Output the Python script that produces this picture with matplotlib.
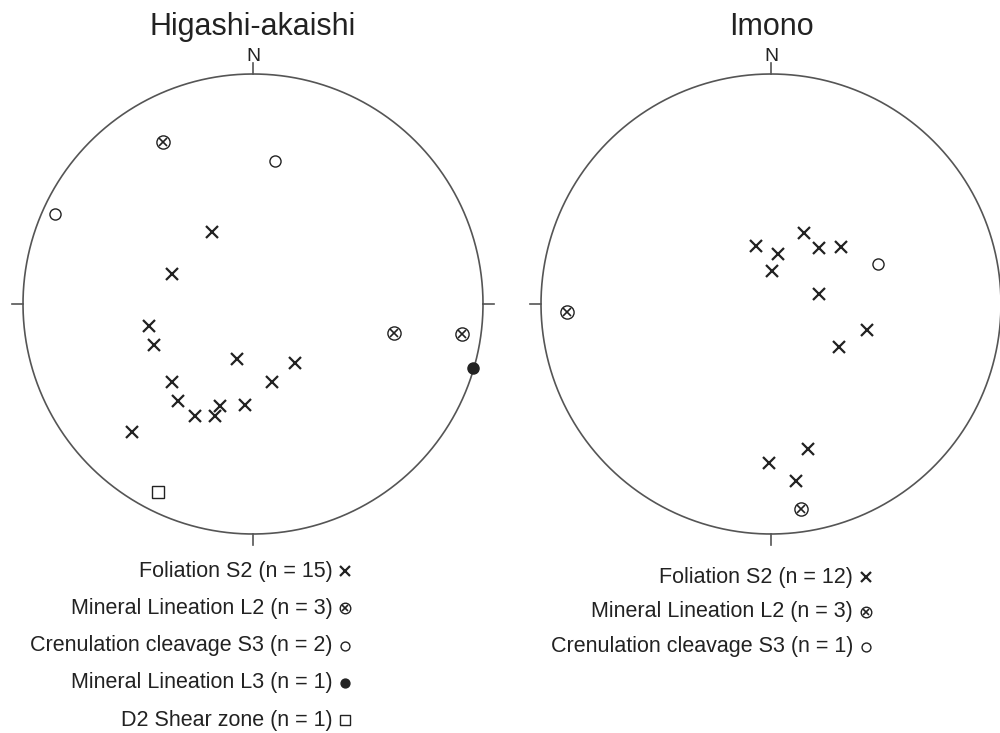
import numpy as np
import matplotlib
matplotlib.use("Agg")
import matplotlib.pyplot as plt

plt.rcParams['font.family'] = ['Liberation Sans', 'DejaVu Sans']

# --------------------------------------------
# PROJECTED POLES / LINEATIONS (unit net coords, x = east, y = north)
# --------------------------------------------
# Higashi-akaishi
ha_s2_x = [-0.178, -0.352, -0.452, -0.430, -0.070, 0.183, -0.352, 0.083,
           -0.326, -0.143, -0.035, -0.252, -0.165, -0.526]
ha_s2_y = [0.313, 0.130, -0.096, -0.178, -0.239, -0.257, -0.339, -0.339,
           -0.422, -0.443, -0.439, -0.487, -0.487, -0.557]
ha_l2_x = [-0.391, 0.613, 0.909]
ha_l2_y = [0.704, -0.126, -0.130]
ha_s3_x = [0.096, -0.861]
ha_s3_y = [0.622, 0.391]
ha_l3_x = [0.957]
ha_l3_y = [-0.278]
ha_sz_x = [-0.413]
ha_sz_y = [-0.817]

# Imono
im_s2_x = [-0.065, 0.030, 0.143, 0.209, 0.304, 0.004, 0.209, 0.417,
           0.296, 0.161, -0.009, 0.109]
im_s2_y = [0.252, 0.217, 0.309, 0.243, 0.248, 0.143, 0.043, -0.113,
           -0.187, -0.630, -0.691, -0.770]
im_l2_x = [-0.887, 0.130]
im_l2_y = [-0.035, -0.891]
im_s3_x = [0.465]
im_s3_y = [0.174]

ha_labels = ["Foliation S2 (n = 15)", "Mineral Lineation L2 (n = 3)",
             "Crenulation cleavage S3 (n = 2)", "Mineral Lineation L3 (n = 1)",
             "D2 Shear zone (n = 1)"]
im_labels = ["Foliation S2 (n = 12)", "Mineral Lineation L2 (n = 3)",
             "Crenulation cleavage S3 (n = 1)"]

INK = "#222222"
RIM = "#555555"

# marker styles for each structure type
STYLES = {
    "s2": dict(marker="x", ms=9, mew=1.6, color=INK, ls="none"),
    "s3": dict(marker="o", ms=8, mew=1.0, mfc="white", mec=INK, ls="none"),
    "l3": dict(marker="o", ms=8, mew=1.0, mfc=INK, mec=INK, ls="none"),
    "sz": dict(marker="s", ms=8.5, mew=1.0, mfc="white", mec=INK, ls="none"),
}


def plot_l2(ax, x, y, scale=1.0):
    # circled cross = open circle with an x on top
    ax.plot(x, y, marker="o", ms=9.5 * scale, mew=1.0, mfc="white", mec=INK,
            ls="none", clip_on=False, zorder=3)
    ax.plot(x, y, marker="x", ms=5.5 * scale, mew=1.2, color=INK, ls="none",
            clip_on=False, zorder=4)


def draw_net(ax, title, right_tick=True):
    t = np.linspace(0, 2 * np.pi, 400)
    ax.plot(np.cos(t), np.sin(t), color=RIM, lw=1.2)
    tk = 0.048
    ax.plot([0, 0], [1, 1 + tk], color=RIM, lw=1.2)
    ax.plot([0, 0], [-1, -1 - tk], color=RIM, lw=1.2)
    ax.plot([-1, -1 - tk], [0, 0], color=RIM, lw=1.2)
    if right_tick:
        ax.plot([1, 1 + tk], [0, 0], color=RIM, lw=1.2)
    ax.text(0, 1.055, "N", ha="center", va="baseline", fontsize=14, color=INK)
    ax.text(0, 1.17, title, ha="center", va="baseline", fontsize=22, color=INK)
    ax.set_xlim(-1.1, 1.1)
    ax.set_ylim(-1.1, 1.1)
    ax.axis("off")


def draw_key(ax, labels, kinds, y0, dy, tx, mx):
    for i, (lab, kind) in enumerate(zip(labels, kinds)):
        y = y0 - i * dy
        ax.text(tx, y, lab, ha="right", va="center", fontsize=15.5, color=INK)
        if kind == "l2":
            plot_l2(ax, [mx], [y], scale=0.8)
        else:
            st = dict(STYLES[kind])
            st["ms"] = st["ms"] * 0.8
            ax.plot([mx], [y], clip_on=False, **st)


fig = plt.figure(figsize=(10, 7.33), dpi=100)
W, H = 1000, 733
R = 230.0
side = 2.2 * R

# left net centre (253, 304) px, right net centre (771, 304) px
ax1 = fig.add_axes([(253 - side / 2) / W, (H - 304 - side / 2) / H, side / W, side / H])
ax2 = fig.add_axes([(771 - side / 2) / W, (H - 304 - side / 2) / H, side / W, side / H])

draw_net(ax1, "Higashi-akaishi")
ax1.plot(ha_s2_x, ha_s2_y, **STYLES["s2"])
plot_l2(ax1, ha_l2_x, ha_l2_y)
ax1.plot(ha_s3_x, ha_s3_y, **STYLES["s3"])
ax1.plot(ha_l3_x, ha_l3_y, zorder=4, **STYLES["l3"])
ax1.plot(ha_sz_x, ha_sz_y, **STYLES["sz"])
draw_key(ax1, ha_labels, ["s2", "l2", "s3", "l3", "sz"], -1.161, 0.162, 0.345, 0.40)

draw_net(ax2, "Imono", right_tick=False)
ax2.plot(im_s2_x, im_s2_y, **STYLES["s2"])
plot_l2(ax2, im_l2_x, im_l2_y)
ax2.plot(im_s3_x, im_s3_y, **STYLES["s3"])
draw_key(ax2, im_labels, ["s2", "l2", "s3"], -1.187, 0.152, 0.357, 0.415)

fig.savefig("out.png", dpi=100, facecolor="white")
